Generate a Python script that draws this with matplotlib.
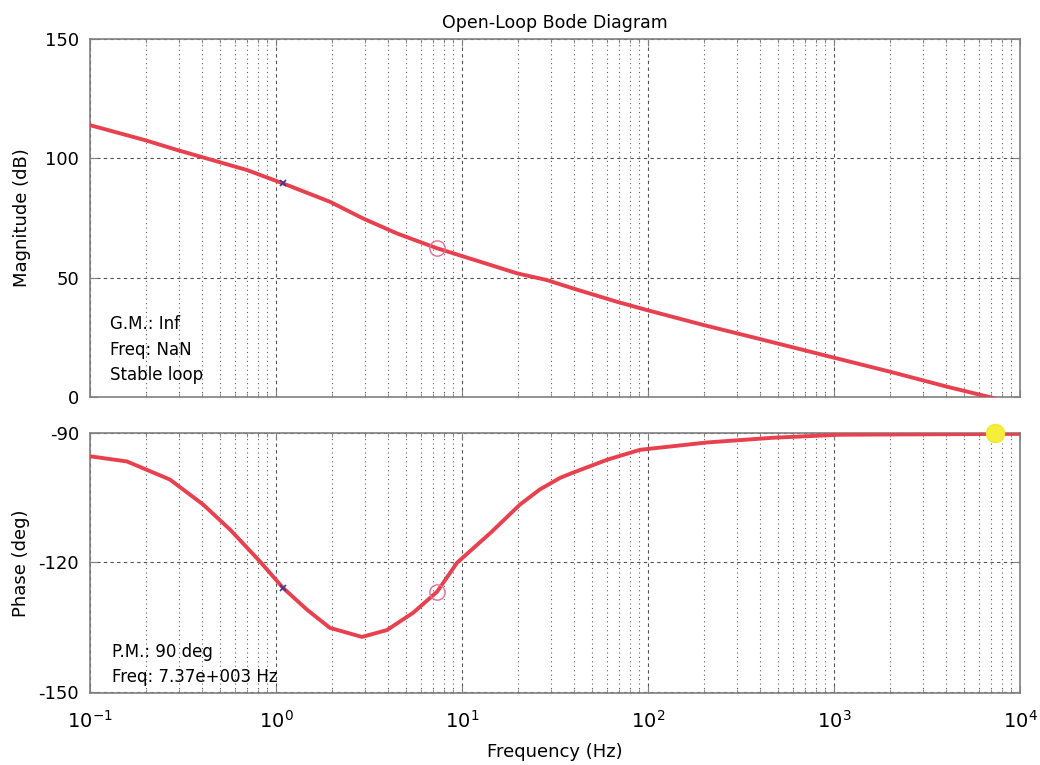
import matplotlib
matplotlib.use("Agg")
import matplotlib.pyplot as plt
from matplotlib.ticker import LogLocator, FixedLocator, NullFormatter

plt.rcParams['font.family'] = ['DejaVu Sans']
plt.rcParams['axes.unicode_minus'] = False

# ---- data ----
freq_mag = [0.1, 0.198, 0.297, 0.458, 0.698, 1.09, 1.95, 2.94, 4.48, 7.35, 12.5,
            19.8, 28.6, 39.5, 68.1, 98.9, 198, 385, 951, 2000, 4055, 8000, 10000]
mag_db = [113.9, 107.6, 103.4, 99.2, 95.1, 89.5, 81.8, 74.8, 68.5, 62.3, 56.7,
          51.8, 49.0, 45.5, 39.9, 36.4, 30.2, 24.6, 16.9, 10.6, 4.3, -1.3, -3.3]

freq_ph = [0.1, 0.158, 0.269, 0.406, 0.566, 0.820, 1.09, 1.47, 1.95, 2.90, 3.95,
           5.46, 7.35, 9.40, 14.2, 20.5, 26.2, 33.7, 39.5, 60.3, 90.6, 207, 470,
           1076, 10000]
phase_deg = [-95.4, -96.6, -100.8, -106.6, -112.4, -119.8, -125.9, -131.0, -135.2,
             -137.3, -135.7, -131.7, -126.8, -120.1, -113.2, -106.6, -103.1, -100.4,
             -99.2, -96.2, -93.9, -92.2, -91.1, -90.4, -90.2]

# marker points
cross_f, cross_mag, cross_ph = 1.09, 89.5, -125.9
circ_f, circ_mag, circ_ph = 7.35, 62.3, -126.8
pm_f, pm_ph = 7370, -90.0

mag_ticks = [0, 50, 100, 150]
ph_ticks = [-150, -120, -90]
x_ticks = [0.1, 1, 10, 100, 1000, 10000]
x_ticklabels = [r'$10^{-1}$', r'$10^{0}$', r'$10^{1}$', r'$10^{2}$', r'$10^{3}$', r'$10^{4}$']

gm_lines = ["G.M.: Inf", "Freq: NaN", "Stable loop"]
pm_lines = ["P.M.: 90 deg", "Freq: 7.37e+003 Hz"]

line_color = '#e8404f'
spine_color = '#808080'

fig = plt.figure(figsize=(10.4, 7.65), dpi=100)
ax1 = fig.add_axes([90/1040, 1-397/765, 930/1040, 358/765])
ax2 = fig.add_axes([90/1040, 1-693/765, 930/1040, 260/765])


def style(ax):
    ax.set_xscale('log')
    ax.set_xlim(0.1, 10000)
    ax.xaxis.set_major_locator(FixedLocator(x_ticks))
    ax.xaxis.set_minor_locator(LogLocator(base=10, subs=range(2, 10), numticks=20))
    ax.xaxis.set_minor_formatter(NullFormatter())
    ax.grid(True, which='major', color='#505050', linestyle=(0, (3, 3)), linewidth=0.8)
    ax.grid(True, which='minor', axis='x', color='#606060', linestyle=(0, (1, 3)), linewidth=0.8)
    for s in ax.spines.values():
        s.set_color(spine_color)
        s.set_linewidth(1.2)
    ax.tick_params(which='both', direction='in', color=spine_color, labelsize=13,
                   top=True, right=True)
    ax.tick_params(which='major', length=5, pad=8)
    ax.tick_params(which='minor', length=3)
    ax.set_axisbelow(True)


style(ax1)
style(ax2)

# magnitude
ax1.plot(freq_mag, mag_db, color=line_color, lw=2.8, solid_capstyle='round', zorder=3)
ax1.plot([cross_f], [cross_mag], marker='x', color='#3a3a90', ms=5, mew=1.2, zorder=4)
ax1.plot([circ_f], [circ_mag], marker='o', mfc='none', mec='#e07090', ms=11, mew=1.0, zorder=4)
ax1.set_ylim(0, 150)
ax1.yaxis.set_major_locator(FixedLocator(mag_ticks))
ax1.set_xticklabels([])
ax1.set_ylabel('Magnitude (dB)', fontsize=13, labelpad=10)
ax1.set_title('Open-Loop Bode Diagram', fontsize=12.5, pad=8)
for i, t in enumerate(gm_lines):
    ax1.text(20/930, (397-324-i*25.5)/358, t, transform=ax1.transAxes,
             fontsize=12, va='center', ha='left')

# phase
ax2.plot(freq_ph, phase_deg, color=line_color, lw=2.8, solid_capstyle='round', zorder=3)
ax2.plot([cross_f], [cross_ph], marker='x', color='#3a3a90', ms=5, mew=1.2, zorder=4)
ax2.plot([circ_f], [circ_ph], marker='o', mfc='none', mec='#e07090', ms=11, mew=1.0, zorder=4)
ax2.plot([pm_f], [pm_ph], marker='o', color='#f5ee3a', mec='#f0e830', ms=13, zorder=5,
         clip_on=False)
ax2.set_ylim(-150.3, -90)
ax2.yaxis.set_major_locator(FixedLocator(ph_ticks))
ax2.set_xticklabels(x_ticklabels)
ax2.tick_params(axis='x', which='major', pad=12, labelsize=14)
ax2.set_ylabel('Phase (deg)', fontsize=13, labelpad=6)
ax2.set_xlabel('Frequency (Hz)', fontsize=13, labelpad=8)
for i, t in enumerate(pm_lines):
    ax2.text(22/930, (693-652-i*25.5)/260, t, transform=ax2.transAxes,
             fontsize=12, va='center', ha='left')

fig.savefig('out.png', dpi=100)
